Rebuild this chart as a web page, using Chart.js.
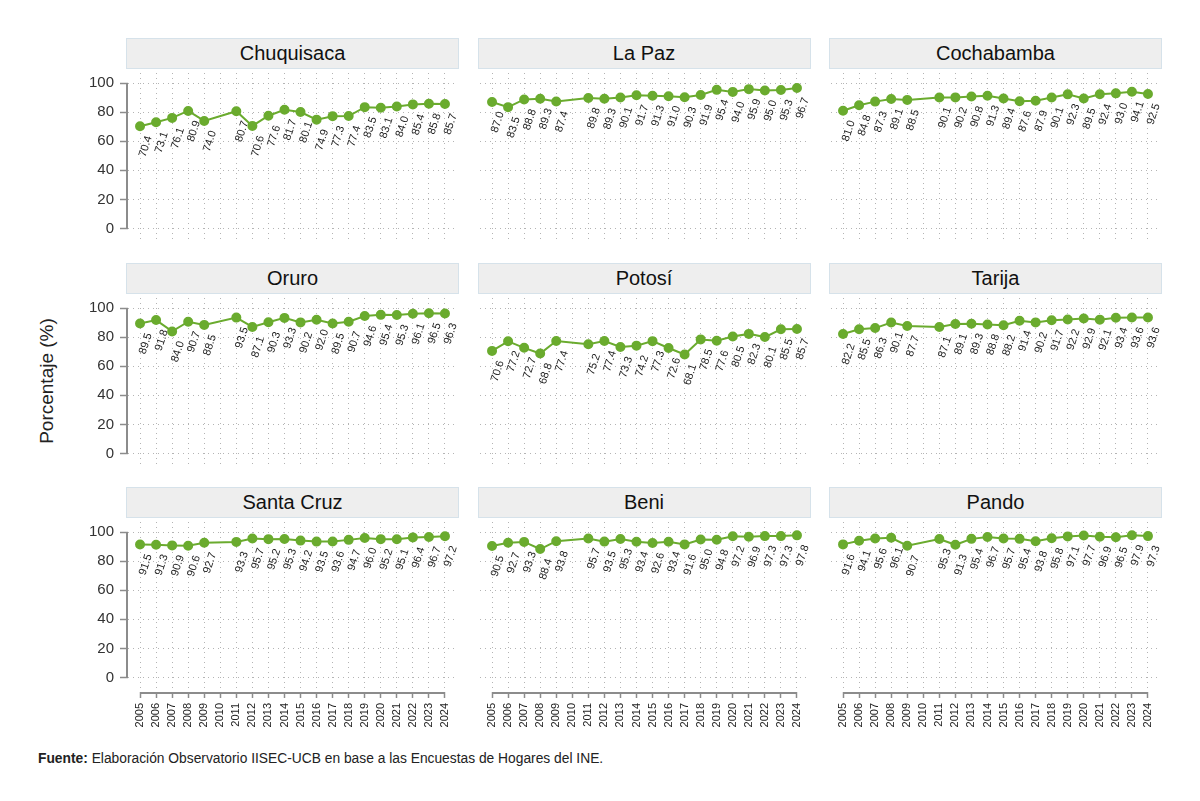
<!DOCTYPE html>
<html lang="es">
<head>
<meta charset="UTF-8">
<title>Porcentaje por departamento, 2005-2024</title>
<script src="https://cdn.jsdelivr.net/npm/chart.js@4.4.1/dist/chart.umd.min.js"></script>
<style>
  body { margin: 0; background: #fff; font-family: "Liberation Sans", Arial, sans-serif; }
  #page { position: relative; width: 1200px; height: 801px; overflow: hidden; background: #fff; }
  .head {
    position: absolute; box-sizing: border-box; width: 333px; height: 31px;
    background: #eeeeee; border: 1px solid #d6e2ea;
    text-align: center; font-size: 20px; line-height: 29px; color: #111;
  }
  canvas { position: absolute; }
  .ytitle {
    position: absolute; left: 47px; top: 381px; white-space: nowrap;
    font-size: 19px; color: #222; transform: translate(-50%, -50%) rotate(-90deg);
  }
  .source { position: absolute; left: 38px; top: 751px; font-size: 13.8px; color: #222; }
</style>
</head>
<body>
<div id="page">
  <div class="ytitle">Porcentaje (%)</div>
  <div class="source"><b>Fuente:</b> Elaboración Observatorio IISEC-UCB en base a las Encuestas de Hogares del INE.</div>
</div>
<script>
const years = [2005, 2006, 2007, 2008, 2009, 2010, 2011, 2012, 2013, 2014,
               2015, 2016, 2017, 2018, 2019, 2020, 2021, 2022, 2023, 2024];
// 2010 has no survey value
const chuquisaca = [70.4, 73.1, 76.1, 80.9, 74.0, null, 80.7, 70.6, 77.6, 81.7, 80.1, 74.9, 77.3, 77.4, 83.5, 83.1, 84.0, 85.4, 85.8, 85.7];
const laPaz      = [87.0, 83.5, 88.8, 89.3, 87.4, null, 89.8, 89.3, 90.1, 91.7, 91.3, 91.0, 90.3, 91.9, 95.4, 94.0, 95.9, 95.0, 95.3, 96.7];
const cochabamba = [81.0, 84.8, 87.3, 89.1, 88.5, null, 90.1, 90.2, 90.8, 91.3, 89.4, 87.6, 87.9, 90.1, 92.3, 89.5, 92.4, 93.0, 94.1, 92.5];
const oruro      = [89.5, 91.8, 84.0, 90.7, 88.5, null, 93.5, 87.1, 90.3, 93.3, 90.2, 92.0, 89.5, 90.7, 94.6, 95.4, 95.3, 96.1, 96.5, 96.3];
const potosi     = [70.6, 77.2, 72.7, 68.8, 77.4, null, 75.2, 77.4, 73.3, 74.2, 77.3, 72.6, 68.1, 78.5, 77.6, 80.5, 82.3, 80.1, 85.5, 85.7];
const tarija     = [82.2, 85.5, 86.3, 90.1, 87.7, null, 87.1, 89.1, 89.3, 88.8, 88.2, 91.4, 90.2, 91.7, 92.2, 92.9, 92.1, 93.4, 93.6, 93.6];
const santaCruz  = [91.5, 91.3, 90.9, 90.6, 92.7, null, 93.3, 95.7, 95.2, 95.3, 94.2, 93.5, 93.6, 94.7, 96.0, 95.2, 95.1, 96.4, 96.7, 97.2];
const beni       = [90.5, 92.7, 93.3, 88.4, 93.8, null, 95.7, 93.5, 95.3, 93.4, 92.6, 93.4, 91.6, 95.0, 94.8, 97.2, 96.9, 97.3, 97.3, 97.8];
const pando      = [91.6, 94.1, 95.6, 96.1, 90.7, null, 95.3, 91.3, 95.4, 96.7, 95.7, 95.4, 93.8, 95.8, 97.1, 97.7, 96.9, 96.5, 97.9, 97.3];

const departments = ['Chuquisaca', 'La Paz', 'Cochabamba', 'Oruro', 'Potosí', 'Tarija', 'Santa Cruz', 'Beni', 'Pando'];
const series = [chuquisaca, laPaz, cochabamba, oruro, potosi, tarija, santaCruz, beni, pando];
const yTicks = [0, 20, 40, 60, 80, 100];

const GREEN = '#6aab2e';
const AXIS = '#8c8c8c';
const GRID = '#b4b4b4';
const page = document.getElementById('page');

function valueLabels() {
  return {
    id: 'valueLabels',
    afterDatasetsDraw(chart) {
      const ctx = chart.ctx;
      const data = chart.data.datasets[0].data;
      ctx.save();
      ctx.font = '11px "Liberation Sans", Arial, sans-serif';
      ctx.fillStyle = '#222';
      ctx.textAlign = 'right';
      ctx.textBaseline = 'middle';
      chart.getDatasetMeta(0).data.forEach((pt, i) => {
        const v = data[i].y;
        if (v == null) return;
        ctx.save();
        ctx.translate(pt.x + 9, pt.y + 10);
        ctx.rotate(-72 * Math.PI / 180);
        ctx.fillText(v.toFixed(1), 0, 0);
        ctx.restore();
      });
      ctx.restore();
    }
  };
}

function axisLines(yLine, xLine) {
  return {
    id: 'axisLines',
    afterDraw(chart) {
      const { ctx, chartArea, scales } = chart;
      ctx.save();
      ctx.strokeStyle = AXIS;
      ctx.lineWidth = 2;
      if (yLine) {
        const x = chartArea.left - 1;
        ctx.beginPath();
        ctx.moveTo(x, scales.y.getPixelForValue(100));
        ctx.lineTo(x, scales.y.getPixelForValue(0));
        ctx.stroke();
      }
      if (xLine) {
        const y = chartArea.bottom + 1;
        ctx.beginPath();
        ctx.moveTo(scales.x.getPixelForValue(years[0]), y);
        ctx.lineTo(scales.x.getPixelForValue(years[years.length - 1]), y);
        ctx.stroke();
      }
      ctx.restore();
    }
  };
}

// keep tick labels from pushing the plot area around, so all panels line up
function noPadding(s) {
  s.paddingTop = 0;
  s.paddingBottom = 0;
  s.paddingLeft = 0;
  s.paddingRight = 0;
}

departments.forEach((name, k) => {
  const row = Math.floor(k / 3);
  const col = k % 3;
  const first = col === 0;
  const bottom = row === 2;

  const areaLeft = 128 + col * 351.5;
  const areaTop = Math.round(73 + row * 224.5);

  const head = document.createElement('div');
  head.className = 'head';
  head.textContent = name;
  head.style.left = (areaLeft - 2) + 'px';
  head.style.top = (areaTop - 35) + 'px';
  page.appendChild(head);

  const canvas = document.createElement('canvas');
  canvas.width = 409;
  canvas.height = bottom ? 220 : 170;
  canvas.style.left = (areaLeft - 60) + 'px';
  canvas.style.top = areaTop + 'px';
  page.appendChild(canvas);

  const values = series[k];
  new Chart(canvas.getContext('2d'), {
    type: 'line',
    data: {
      datasets: [{
        data: years.map((yr, i) => ({ x: yr, y: values[i] })),
        borderColor: GREEN,
        backgroundColor: GREEN,
        pointBackgroundColor: GREEN,
        pointBorderColor: GREEN,
        borderWidth: 2,
        pointRadius: 4,
        spanGaps: true,
        tension: 0,
      }],
    },
    options: {
      responsive: false,
      animation: false,
      events: [],
      layout: { padding: { top: 0, right: 20, bottom: 0, left: 0 }, autoPadding: false },
      plugins: { legend: { display: false }, tooltip: { enabled: false }, title: { display: false } },
      scales: {
        x: {
          type: 'linear',
          min: 2004.25,
          max: 2024.75,
          afterBuildTicks: (s) => { s.ticks = years.map((v) => ({ value: v })); },
          afterFit: (s) => { s.height = bottom ? 50 : 0; noPadding(s); },
          grid: {
            color: GRID, lineWidth: 1, borderDash: [1, 4],
            drawTicks: bottom, tickLength: 6, tickColor: AXIS, tickWidth: 1.5, tickBorderDash: [],
          },
          border: { display: false, dash: [1, 4] },
          ticks: {
            display: bottom, autoSkip: false, minRotation: 90, maxRotation: 90, padding: 5,
            color: '#222', font: { family: '"Liberation Sans", Arial, sans-serif', size: 11 },
            callback: (v) => String(v),
          },
        },
        y: {
          min: -10,
          max: 107,
          afterBuildTicks: (s) => { s.ticks = yTicks.map((v) => ({ value: v })); },
          afterFit: (s) => { s.width = 60; noPadding(s); },
          grid: {
            color: GRID, lineWidth: 1, borderDash: [1, 4],
            drawTicks: first, tickLength: 8, tickColor: AXIS, tickWidth: 1.5, tickBorderDash: [],
          },
          border: { display: false, dash: [1, 4] },
          ticks: {
            display: first, padding: 6, color: '#333',
            font: { family: '"Liberation Sans", Arial, sans-serif', size: 15 },
          },
        },
      },
    },
    plugins: [valueLabels(), axisLines(first, bottom)],
  });
});
</script>
</body>
</html>
